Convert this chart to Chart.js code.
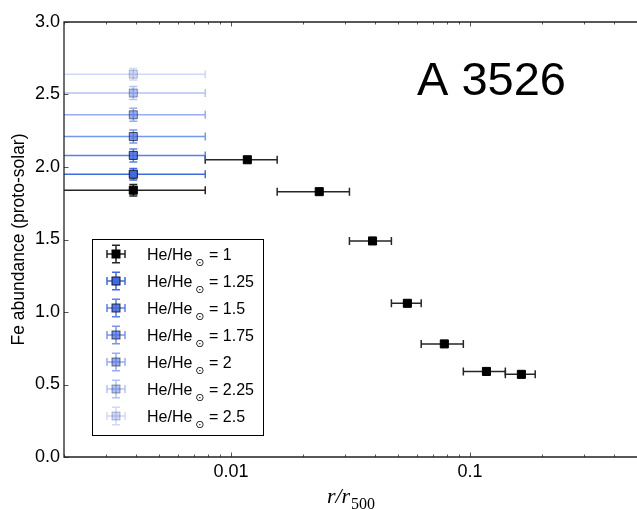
<!DOCTYPE html>
<html>
<head>
<meta charset="utf-8">
<script src="https://cdn.jsdelivr.net/npm/chart.js@4.4.0/dist/chart.umd.min.js"></script>
<style>
  html, body { margin: 0; padding: 0; overflow: hidden; background: #fff; }
</style>
</head>
<body>
<canvas id="feChart" width="637" height="510"></canvas>
<script>
// === Radial bins (r / r500): centres and bin edges ===
const rMid = [0.0039, 0.0117, 0.0234, 0.0391, 0.0547, 0.0781, 0.1172, 0.1641];
const rLo  = [0, 0.0078, 0.0156, 0.0313, 0.0469, 0.0625, 0.0938, 0.1406];
const rHi  = [0.0078, 0.0156, 0.0313, 0.0469, 0.0625, 0.0938, 0.1406, 0.1875];

// Fe profile with solar helium
const feSolarHe    = [1.84, 2.05, 1.83, 1.49, 1.06, 0.78, 0.59, 0.57];
const feSolarHeErr = [0.04, 0.02, 0.02, 0.02, 0.02, 0.02, 0.02, 0.02];

// Innermost bin refitted with enhanced helium
const heRatios   = ["1.25", "1.5", "1.75", "2", "2.25", "2.5"];
const feInner    = [1.95, 2.08, 2.21, 2.36, 2.51, 2.64];
const feInnerErr = [0.04, 0.045, 0.045, 0.045, 0.045, 0.04];
const heAlpha    = [1, 0.85, 0.7, 0.55, 0.4, 0.25];

// Axis ticks
const xMajor = [0.01, 0.1];
const xMinorSteps = [2, 3, 4, 5, 6, 7, 8, 9];
const yTicks = [0, 0.5, 1, 1.5, 2, 2.5, 3];

const xTickVals = [];
[0.001, 0.01, 0.1].forEach((dec) => {
  xMinorSteps.forEach((m) => {
    const v = +(dec * m).toPrecision(3);
    if (v >= 0.002 && v <= 0.5) xTickVals.push(v);
  });
});
xTickVals.push(...xMajor);
xTickVals.sort((a, b) => a - b);

const CAP = 4;
const SANS = '"Liberation Sans", Arial, sans-serif';
const SERIF = '"Liberation Serif", "DejaVu Serif", serif';

// === Datasets ===
const datasets = [
  {
    label: "He/He = 1",
    heRatio: "1",
    data: rMid.map((r, i) => ({ x: r, y: feSolarHe[i] })),
    rLo, rHi, feErr: feSolarHeErr,
    barColor: "#262626",
    backgroundColor: "#000",
    borderColor: "#000",
    order: 7,
  },
];
heRatios.forEach((h, i) => {
  const a = heAlpha[i];
  datasets.push({
    label: "He/He = " + h,
    heRatio: h,
    data: [{ x: rMid[0], y: feInner[i] }],
    rLo: [rLo[0]], rHi: [rHi[0]], feErr: [feInnerErr[i]],
    barColor: `rgba(65,105,225,${a})`,
    backgroundColor: `rgba(65,105,225,${a})`,
    borderColor: `rgba(20,20,40,${a})`,
    order: 6 - i,
  });
});
datasets.forEach((d) => {
  d.pointStyle = "rect";
  d.pointRadius = 5.7;
  d.pointHoverRadius = 5.7;
  d.borderWidth = 1;
  d.showLine = false;
});

// === Error bars, drawn under each dataset's markers ===
const errorBars = {
  id: "errorBars",
  beforeDatasetDraw(chart, args) {
    const ds = chart.data.datasets[args.index];
    const { ctx, chartArea: a, scales: { x, y } } = chart;
    ctx.save();
    ctx.beginPath();
    ctx.rect(a.left, a.top, a.right - a.left, a.bottom - a.top);
    ctx.clip();
    ctx.strokeStyle = ds.barColor;
    ctx.lineWidth = 1.5;
    ds.data.forEach((p, i) => {
      const px = x.getPixelForValue(p.x);
      const py = y.getPixelForValue(p.y);
      const x0 = x.getPixelForValue(ds.rLo[i]);
      const x1 = x.getPixelForValue(ds.rHi[i]);
      const y0 = y.getPixelForValue(p.y - ds.feErr[i]);
      const y1 = y.getPixelForValue(p.y + ds.feErr[i]);
      ctx.beginPath();
      ctx.moveTo(x0, py); ctx.lineTo(x1, py);
      ctx.moveTo(px, y0); ctx.lineTo(px, y1);
      if (ds.rLo[i] > 0) { ctx.moveTo(x0, py - CAP); ctx.lineTo(x0, py + CAP); }
      ctx.moveTo(x1, py - CAP); ctx.lineTo(x1, py + CAP);
      ctx.moveTo(px - CAP, y0); ctx.lineTo(px + CAP, y0);
      ctx.moveTo(px - CAP, y1); ctx.lineTo(px + CAP, y1);
      ctx.stroke();
    });
    ctx.restore();
  },
};

// === Frame, inward ticks, cluster name, x label and legend ===
const decorations = {
  id: "decorations",
  afterDraw(chart) {
    const { ctx, chartArea: a, scales: { x, y } } = chart;
    ctx.save();

    // inward tick marks (the right spine sits at the canvas edge)
    ctx.strokeStyle = "#555";
    ctx.lineWidth = 1;
    ctx.beginPath();
    xTickVals.forEach((v) => {
      const px = Math.round(x.getPixelForValue(v)) + 0.5;
      const len = xMajor.includes(v) ? 4.5 : 2.5;
      ctx.moveTo(px, a.bottom); ctx.lineTo(px, a.bottom - len);
      ctx.moveTo(px, a.top); ctx.lineTo(px, a.top + len);
    });
    yTicks.forEach((v) => {
      const py = Math.round(y.getPixelForValue(v)) + 0.5;
      ctx.moveTo(a.left, py); ctx.lineTo(a.left + 4.5, py);
    });
    ctx.stroke();

    // frame: left, top, bottom
    ctx.strokeStyle = "#222";
    ctx.lineWidth = 1.3;
    ctx.beginPath();
    ctx.moveTo(a.right + 2, a.top);
    ctx.lineTo(a.left, a.top);
    ctx.lineTo(a.left, a.bottom);
    ctx.lineTo(a.right + 2, a.bottom);
    ctx.stroke();

    // cluster name
    ctx.fillStyle = "#000";
    ctx.font = `47px ${SANS}`;
    ctx.textBaseline = "alphabetic";
    ctx.textAlign = "left";
    ctx.fillText("A 3526", 417, 95);

    // x axis label: r / r_500
    ctx.font = `italic 22px ${SERIF}`;
    const main = "r/r";
    const wMain = ctx.measureText(main).width;
    ctx.font = `16px ${SERIF}`;
    const wSub = ctx.measureText("500").width;
    const cx = (a.left + a.right) / 2;
    const tx = cx - (wMain + wSub) / 2;
    ctx.font = `italic 22px ${SERIF}`;
    ctx.fillText(main, tx, 503);
    ctx.font = `16px ${SERIF}`;
    ctx.fillText("500", tx + wMain + 1, 508.5);

    // legend
    const lx = 92.5, ly = 239.5, lw = 171, lh = 196;
    ctx.fillStyle = "#fff";
    ctx.fillRect(lx, ly, lw, lh);
    ctx.strokeStyle = "#000";
    ctx.lineWidth = 1;
    ctx.strokeRect(lx, ly, lw, lh);

    chart.data.datasets.forEach((ds, i) => {
      const my = 254 + i * 27;
      const mx = 116;
      // error cross
      ctx.strokeStyle = ds.barColor;
      ctx.lineWidth = 1.5;
      ctx.beginPath();
      ctx.moveTo(mx - 9, my); ctx.lineTo(mx + 9, my);
      ctx.moveTo(mx, my - 8.7); ctx.lineTo(mx, my + 8.7);
      ctx.moveTo(mx - 9, my - CAP); ctx.lineTo(mx - 9, my + CAP);
      ctx.moveTo(mx + 9, my - CAP); ctx.lineTo(mx + 9, my + CAP);
      ctx.moveTo(mx - CAP, my - 8.7); ctx.lineTo(mx + CAP, my - 8.7);
      ctx.moveTo(mx - CAP, my + 8.7); ctx.lineTo(mx + CAP, my + 8.7);
      ctx.stroke();
      // marker
      ctx.fillStyle = ds.backgroundColor;
      ctx.strokeStyle = ds.borderColor;
      ctx.lineWidth = 1;
      ctx.fillRect(mx - 4, my - 4, 8, 8);
      ctx.strokeRect(mx - 4, my - 4, 8, 8);
      // text
      ctx.fillStyle = "#000";
      ctx.font = `16px ${SANS}`;
      const base = "He/He";
      ctx.fillText(base, 147, my + 5.5);
      const wb = ctx.measureText(base).width;
      ctx.font = '11px "DejaVu Sans", sans-serif';
      ctx.fillText("\u2299", 147 + wb + 3, my + 12);
      ctx.font = `16px ${SANS}`;
      ctx.fillText("= " + ds.heRatio, 209, my + 5.5);
    });

    ctx.restore();
  },
};

// === Chart ===
new Chart(document.getElementById("feChart"), {
  type: "scatter",
  data: { datasets },
  options: {
    responsive: false,
    animation: false,
    events: [],
    layout: { autoPadding: false, padding: { top: 22, right: 0, left: 0, bottom: 0 } },
    plugins: { legend: { display: false }, tooltip: { enabled: false } },
    scales: {
      x: {
        type: "logarithmic",
        min: 0.002,
        max: 0.5,
        grid: { display: false, drawTicks: false, tickLength: 0 },
        border: { display: false },
        afterBuildTicks: (s) => { s.ticks = xTickVals.map((v) => ({ value: v })); },
        afterFit: (s) => {
          s.height = 53;
          s.paddingLeft = 0;
          s.paddingRight = 0;
        },
        ticks: {
          autoSkip: false,
          maxRotation: 0,
          padding: 4,
          color: "#000",
          font: { family: SANS, size: 18 },
          callback: (v) => (xMajor.includes(v) ? String(v) : ""),
        },
      },
      y: {
        min: 0,
        max: 3,
        grid: { display: false, drawTicks: false, tickLength: 0 },
        border: { display: false },
        afterBuildTicks: (s) => { s.ticks = yTicks.map((v) => ({ value: v })); },
        afterFit: (s) => { s.width = 64; },
        ticks: {
          padding: 4,
          color: "#000",
          font: { family: SANS, size: 18 },
          callback: (v) => v.toFixed(1),
        },
        title: {
          display: true,
          text: "Fe abundance (proto-solar)",
          color: "#000",
          font: { family: SANS, size: 17.5 },
          padding: { top: 8.5, bottom: 0 },
        },
      },
    },
  },
  plugins: [errorBars, decorations],
});
</script>
</body>
</html>
